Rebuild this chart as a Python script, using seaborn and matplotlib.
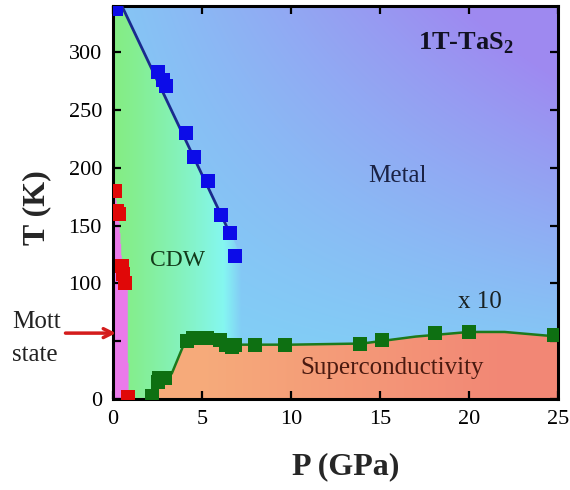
import numpy as np
import pandas as pd
import matplotlib
matplotlib.use("Agg")
import matplotlib.pyplot as plt
import seaborn as sns

# ---------------- data ----------------
cdw_P = [0.15, 2.55, 2.8, 3.0, 4.1, 4.55, 5.33, 6.07, 6.57, 6.85]
cdw_T = [337, 283, 276, 271, 230, 209, 189, 159, 144, 124]
cdw_line_P = [0.5, 6.7]
cdw_line_T = [340, 139]

mott_P = [0.1, 0.25, 0.35, 0.5, 0.55, 0.7, 0.85]
mott_T = [180, 163, 160, 115, 108, 100, 2]

sc_P = [2.2, 2.5, 2.6, 2.9, 4.15, 4.5, 5.3, 6.0, 6.35, 6.7, 6.85, 8.0, 9.65, 13.9, 15.1, 18.1, 20.0, 24.8]
sc_T = [3, 15, 18, 18, 50, 53, 53, 51, 47, 45, 47, 47, 47, 48, 51, 57, 58, 55]
sc_curve_P = [2.2, 2.6, 3.3, 4.0, 5.0, 7.0, 10.0, 14.0, 17.0, 20.0, 22.0, 25.0]
sc_curve_T = [0, 17, 22, 48, 50, 47, 47, 48, 54, 58, 58, 54]

mott_edge_T = [0, 100, 115, 160, 185]
mott_edge_P = [0.85, 0.8, 0.5, 0.3, 0.0]

x_ticks = [0, 5, 10, 15, 20, 25]
y_ticks = [0, 50, 100, 150, 200, 250, 300]
y_tick_labels = ["0", "", "100", "150", "200", "250", "300"]

P_MAX, T_MAX = 25, 340

# ---------------- style ----------------
sns.set_style("ticks")
plt.rcParams["font.family"] = ["Liberation Serif", "DejaVu Serif"]
plt.rcParams["mathtext.fontset"] = "custom"
plt.rcParams["mathtext.rm"] = "Liberation Serif"
plt.rcParams["mathtext.bf"] = "Liberation Serif:bold"

fig = plt.figure(figsize=(5.7, 4.9), dpi=100)
ax = fig.add_axes([113 / 570, 91 / 490, 445 / 570, 393 / 490])

# ---------------- background phase colouring ----------------
nx, ny = 600, 480
P = np.linspace(0, P_MAX, nx)[None, :]
T = np.linspace(0, T_MAX, ny)[:, None]
P2 = np.broadcast_to(P, (ny, nx))
T2 = np.broadcast_to(T, (ny, nx))

def lerp(c1, c2, w):
    c1 = np.array(c1)[None, None, :]
    c2 = np.array(c2)[None, None, :]
    w = np.asarray(w)[..., None]
    return c1 * (1 - w) + c2 * w

sky = (0.50, 0.83, 0.965)
purple = (0.62, 0.54, 0.945)
a = P2 / P_MAX
b = T2 / T_MAX
wm = np.clip(a * b * 1.05 + 0.18 * b, 0, 1)
img = lerp(sky, purple, wm)

# CDW region: green -> cyan
green = (0.52, 0.93, 0.52)
cyan = (0.52, 0.97, 0.95)
wg = np.clip(P2 / 6.3, 0, 1) ** 1.3
cdw_col = lerp(green, cyan, wg)
slope = (cdw_line_T[1] - cdw_line_T[0]) / (cdw_line_P[1] - cdw_line_P[0])
line_T = cdw_line_T[0] + slope * (P2 - cdw_line_P[0])
wc = np.clip((7.2 - P2) / 1.0, 0, 1) * (T2 < line_T)
img = img * (1 - wc[..., None]) + cdw_col * wc[..., None]

# Mott region
pink = np.array((0.92, 0.48, 0.92))
edge = np.interp(T2, mott_edge_T, mott_edge_P)
mm = P2 < edge
img[mm] = pink

# superconducting region
orange = (0.965, 0.67, 0.48)
salmon = (0.95, 0.53, 0.46)
sc_col = lerp(orange, salmon, np.clip((P2 - 5) / 17, 0, 1))
curve = np.interp(P2, sc_curve_P, sc_curve_T, left=-1)
ms = (T2 < curve) & (P2 >= sc_curve_P[0])
img[ms] = sc_col[ms]

ax.imshow(img, extent=[0, P_MAX, 0, T_MAX], origin="lower", aspect="auto",
          interpolation="bilinear", zorder=0)

# ---------------- data marks ----------------
sns.lineplot(x=cdw_line_P, y=cdw_line_T, color="#1a2a8e", lw=2.0,
             estimator=None, sort=False, ax=ax, zorder=3)
sns.lineplot(x=sc_curve_P, y=sc_curve_T, color="#1c7a1c", lw=1.8,
             estimator=None, sort=False, ax=ax, zorder=3)
sns.scatterplot(x=cdw_P, y=cdw_T, marker="s", s=105, color="#0c0ce8",
                linewidth=0, ax=ax, zorder=4)
sns.scatterplot(x=mott_P, y=mott_T, marker="s", s=95, color="#e00808",
                linewidth=0, ax=ax, zorder=4)
sns.scatterplot(x=sc_P, y=sc_T, marker="s", s=105, color="#0e7012",
                linewidth=0, ax=ax, zorder=4)

# ---------------- axes ----------------
ax.set_xlim(0, P_MAX)
ax.set_ylim(0, T_MAX)
ax.set_xticks(x_ticks)
ax.set_xticklabels([str(v) for v in x_ticks])
ax.set_yticks(y_ticks)
ax.set_yticklabels(y_tick_labels)
ax.tick_params(direction="in", length=6, width=1.6, top=True, right=True,
               labelsize=16, pad=8, colors="black")
for s in ax.spines.values():
    s.set_linewidth(2.2)
    s.set_color("black")
    s.set_visible(True)
ax.set_xlabel("")
ax.set_ylabel("")

ax.text((346 - 113) / 445, (399 - 467) / 393, "P (GPa)", transform=ax.transAxes,
        ha="center", va="center", fontsize=23, fontweight="bold")
ax.text((37 - 113) / 445, (399 - 208) / 393, "T (K)", transform=ax.transAxes,
        ha="center", va="center", fontsize=23, fontweight="bold", rotation=90)

# ---------------- annotations ----------------
ax.text(19.8, 308, r"1T-TaS$_\mathbf{2}$", ha="center", va="center",
        fontsize=19, fontweight="bold", color="#111122")
ax.text(16.0, 193, "Metal", ha="center", va="center", fontsize=18, color="#1a2244")
ax.text(20.6, 84, "x 10", ha="center", va="center", fontsize=18, color="#1a2222")
ax.text(3.6, 120, "CDW", ha="center", va="center", fontsize=17, color="#123a1a")
ax.text(15.7, 27, "Superconductivity", ha="center", va="center", fontsize=18,
        color="#4a1a10")

ax.text(-0.227, (399 - 322) / 393, "Mott", transform=ax.transAxes, ha="left",
        va="center", fontsize=18, color="#222222")
ax.text(-0.227, (399 - 355) / 393, "state", transform=ax.transAxes, ha="left",
        va="center", fontsize=18, color="#222222")
ax.annotate("", xy=(0.013, 57 / T_MAX), xytext=(-0.113, 57 / T_MAX),
            xycoords="axes fraction", textcoords="axes fraction",
            arrowprops=dict(arrowstyle="->", color="#d41c1c", lw=2.5,
                            mutation_scale=16),
            annotation_clip=False, zorder=6)

fig.savefig("out.png", dpi=100)
